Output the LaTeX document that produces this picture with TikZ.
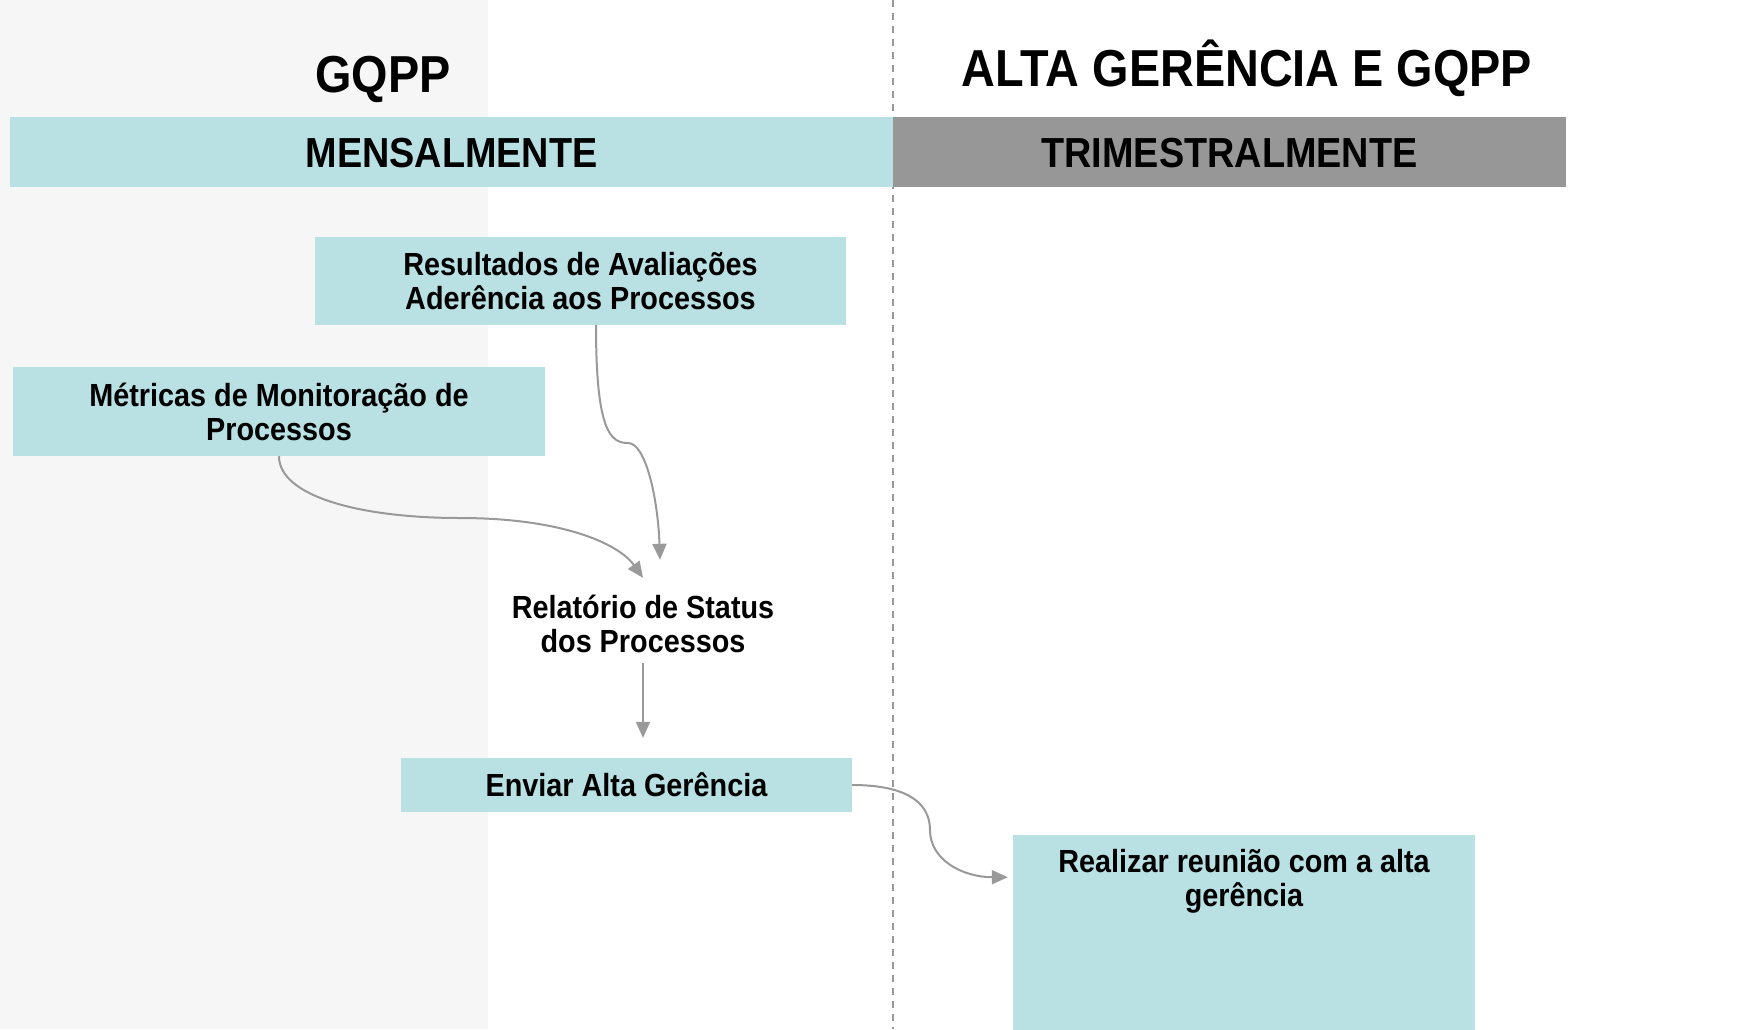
\documentclass[tikz,border=0pt]{standalone}
\usepackage{fontspec}
\setmainfont{Liberation Sans}[FakeStretch=0.9]
\usetikzlibrary{arrows.meta}
\usetikzlibrary{positioning,calc}
\definecolor{teal2}{HTML}{B9E0E3}
\definecolor{gray3}{HTML}{979797}
\definecolor{gray4}{HTML}{F6F6F6}
\definecolor{arrowgray}{HTML}{999999}
\tikzset{band/.style={rectangle, inner sep=0pt, minimum height=70pt,
text height=30pt, text depth=0pt, font=\fontsize{42}{42}\selectfont\bfseries},
bandA/.style={band, fill=teal2},
bandB/.style={band, fill=gray3},
head/.style={anchor=base, inner sep=0pt, font=\fontsize{52}{52}\selectfont\bfseries},
stepbox/.style={rectangle, fill=teal2, inner sep=0pt, align=center,
font=\fontsize{32}{34}\selectfont\bfseries},
plaintext/.style={stepbox, fill=none, minimum height=70pt},
flow/.style={draw=arrowgray, line width=2pt},
>={Triangle[length=16pt,width=14pt]}}

\begin{document}
\begin{tikzpicture}[x=1pt,y=-1pt]
  \useasboundingbox (0,0) rectangle (1746,1029);
  \fill[gray4] (0,0) rectangle (488,1029);
  \draw[arrowgray, line width=1.8pt, dash pattern=on 7pt off 6pt] (893,0) -- (893,1029);

  \node(H1) [head] at (383,92) {GQPP};
  \node(H2) [head] at (1247,86) {ALTA GERÊNCIA E GQPP};
  \node(M) [bandA, minimum width=883pt] at (451.5,152) {MENSALMENTE};
  \node(T) [bandB, minimum width=673pt] at (1229.5,152) {TRIMESTRALMENTE};

  \node(R) [stepbox, minimum width=531pt, minimum height=88pt] at (580.5,281) {Resultados de Avaliações\\Aderência aos Processos};
  \node(Mt) [stepbox, minimum width=532pt, minimum height=89pt] at (279,411.5) {Métricas de Monitoração de\\Processos};
  \node(Rel) [plaintext] at (643,624) {Relatório de Status\\dos Processos};
  \node(E) [stepbox, minimum width=451pt, minimum height=54pt] at (626.5,785) {Enviar Alta Gerência};
  \node(Re) [stepbox, minimum width=462pt, minimum height=92pt, anchor=north] at (1244,835) {Realizar reunião com a alta\\gerência};
  \fill[teal2] (Re.south west) rectangle (Re.south east |- 0,1040);

  \coordinate (b1) at (628,443);
  \coordinate (b2) at (460,518);
  \coordinate (b3) at (930,830);

\draw[flow,->]
([xshift=15.5pt]R.south)
   .. controls +(0,105) and +(-18,0) ..
(b1)
   .. controls +(18,0) and +(-2,-60) ..
([xshift=17pt,yshift=29pt]Rel.north);
\draw[flow,->]
(Mt.south)
   .. controls +(0,40) and +(-100,0) ..
(b2)
   .. controls +(100,0) and +(-25,-35) ..
([yshift=11pt]Rel.north);
\draw[flow,->,shorten >=20pt]
([yshift=-4pt]Rel.south)
   --
(Rel.south |- E.north);
\draw[flow,->]
(E.east)
   .. controls +(50,0) and +(0,-30) ..
(b3)
   .. controls +(0,30) and +(-45,0) ..
([yshift=4pt,xshift=-5pt]Re.west);
\end{tikzpicture}
\end{document}
